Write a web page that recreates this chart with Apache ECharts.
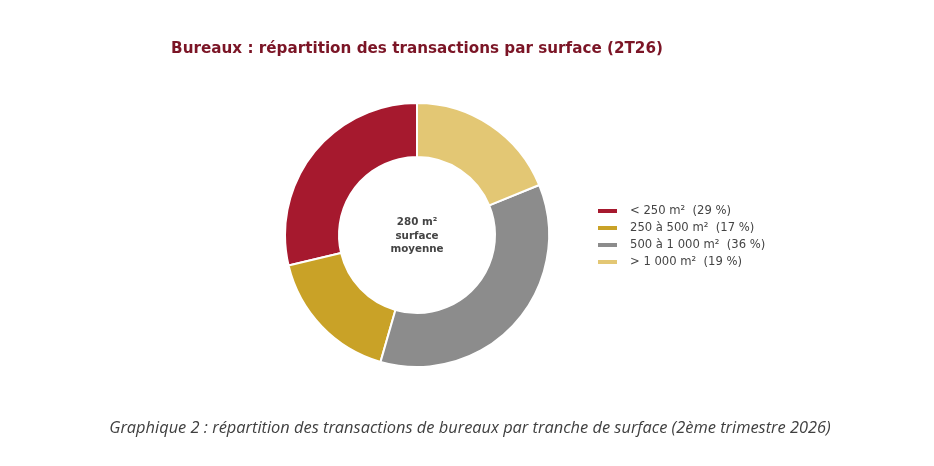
<!DOCTYPE html>
<html><head><meta charset="utf-8">
<script src="https://cdn.jsdelivr.net/npm/echarts@6/dist/echarts.min.js"></script>
<style>html,body{margin:0;padding:0;background:#fff}#c{width:934px;height:466px}</style>
</head><body><div id="c"></div>
<script>
const categories = ['< 250 m²', '250 à 500 m²', '500 à 1 000 m²', '> 1 000 m²'];
const values = [29, 17, 36, 19];
const colors = ['#A6192E', '#C9A227', '#8C8C8C', '#E3C774'];
const titleText = 'Bureaux : répartition des transactions par surface (2T26)';
const centerText = '280 m²\nsurface\nmoyenne';
const captionText = 'Graphique 2 : répartition des transactions de bureaux par tranche de surface (2ème trimestre 2026)';

const chart = echarts.init(document.getElementById('c'));
chart.setOption({
  animation: false,
  title: [{
    text: titleText, left: 417, top: 42, textAlign: 'center', padding: 0,
    textStyle: {fontFamily: 'DejaVu Sans', fontWeight: 'bold', fontSize: 15.2, color: '#7B1526'}
  }, {
    text: captionText, left: 470, top: 420, textAlign: 'center', padding: 0,
    textStyle: {fontFamily: 'Open Sans', fontStyle: 'italic', fontWeight: 'normal', fontSize: 16.4, color: '#404040'}
  }],
  legend: {
    orient: 'vertical', left: 596, top: 205, itemWidth: 21, itemHeight: 6, itemGap: 5, padding: 0,
    icon: 'rect',
    textStyle: {fontFamily: 'DejaVu Sans', fontSize: 11.6, lineHeight: 12, color: '#444', padding: [0, 0, 0, 7]},
    formatter: name => name + '  (' + values[categories.indexOf(name)] + ' %)',
    data: categories
  },
  graphic: [{
    type: 'text', x: 417, y: 236,
    style: {text: centerText, textAlign: 'center', textVerticalAlign: 'middle',
      fontFamily: 'DejaVu Sans', fontWeight: 'bold', fontSize: 10.3, lineHeight: 13.5, fill: '#444'}
  }],
  series: [{
    type: 'pie', center: [417, 235], radius: [78, 132], startAngle: 90, clockwise: false,
    label: {show: false}, labelLine: {show: false}, emphasis: {disabled: true},
    itemStyle: {borderColor: '#fff', borderWidth: 2},
    data: categories.map((c, i) => ({name: c, value: values[i], itemStyle: {color: colors[i]}}))
  }]
});
</script></body></html>
